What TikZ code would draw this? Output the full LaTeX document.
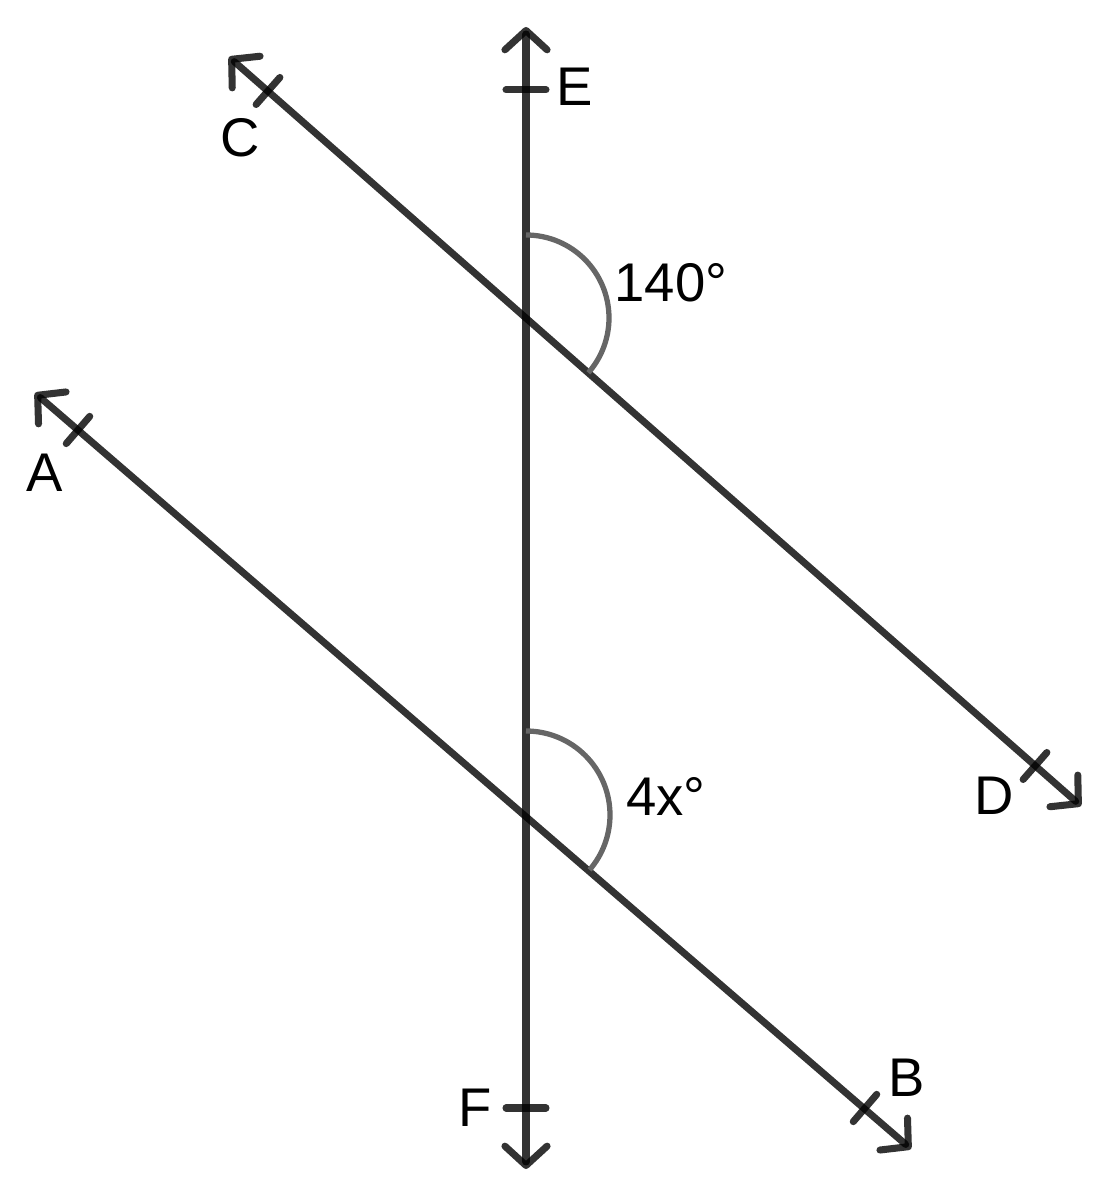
\documentclass[tikz,border=0pt]{standalone}
\usepackage{fontspec}
\setmainfont{Liberation Sans}
\usetikzlibrary{arrows.meta, calc}

\begin{document}
\begin{tikzpicture}[
        x=0.02cm, y=0.02cm,
        every node/.style={font=\fontsize{31}{36}\selectfont, inner sep=0pt},
        line/.style={draw=black, draw opacity=0.8, line width=4pt, line cap=round},
        barb/.tip={Straight Barb[length=11pt, width=24pt, line width=4pt 0, round]},
        arrow/.style={line, barb-barb},
        tick/.style={line},
        anglearc/.style={draw=black!60, line width=3pt}
    ]
    \useasboundingbox (0,0) rectangle (1116,1195);

    % Points
    \coordinate (topEF) at (526,1168);
    \coordinate (botEF) at (526,26);
    \coordinate (tipC) at (229,1138);
    \coordinate (tipD) at (1081,389);
    \coordinate (tipA) at (35,802);
    \coordinate (tipB) at (911,46);
    \coordinate (tE) at (526,1105);
    \coordinate (tF) at (526,87);
    \coordinate (tC) at (268,1104);
    \coordinate (tD) at (1035,429);
    \coordinate (tA) at (78,765);
    \coordinate (tB) at (865,87);
    \coordinate (meetCD) at (526,877);
    \coordinate (meetAB) at (526,380);

    % Labels
    \node (E) at (575,1108) {E};
    \node (C) at (240,1057) {C};
    \node (A) at (45,722) {A};
    \node (D) at (994,399) {D};
    \node (F) at (475,87) {F};
    \node (B) at (907,117) {B};
    \node (upper) at (671,912) {140°};
    \node (lower) at (666,399) {4x°};

    % Lines
    \draw [arrow] (botEF) -- (topEF);
    \draw [arrow] (tipC) -- (tipD);
    \draw [arrow] (tipA) -- (tipB);

    % Ticks
    \draw [tick] ($(tE)+(-20,0)$) -- ($(tE)+(20,0)$);
    \draw [tick] ($(tF)+(-20,0)$) -- ($(tF)+(20,0)$);
    \foreach \p/\q in {tC/tipD, tD/tipC, tA/tipB, tB/tipA}
        \draw [tick] ($(\p)!0.36cm!90:(\q)$) -- ($(\p)!0.36cm!-90:(\q)$);

    % Angles
    \draw [anglearc] (meetCD) ++(90:1.66cm) arc[start angle=90, end angle=-41.3, radius=1.66cm];
    \draw [anglearc] (meetAB) ++(90:1.68cm) arc[start angle=90, end angle=-40.8, radius=1.68cm];

\end{tikzpicture}
\end{document}
